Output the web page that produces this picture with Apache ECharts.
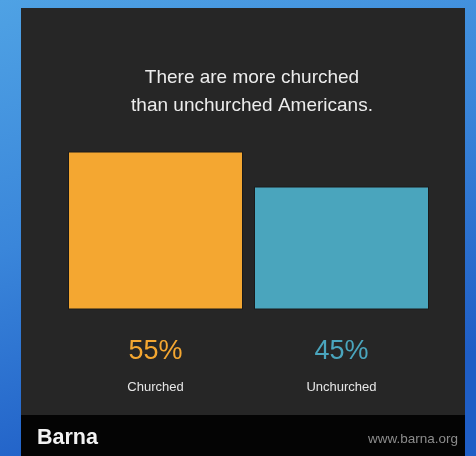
<!DOCTYPE html>
<html><head><meta charset="utf-8">
<script src="https://cdn.jsdelivr.net/npm/echarts@6/dist/echarts.min.js"></script>
<style>html,body{margin:0;padding:0;width:476px;height:456px;overflow:hidden;}#c{width:476px;height:456px;}</style>
</head><body><div id="c"></div>
<script>
const categories = ['Churched', 'Unchurched'];
const values = [55, 45];
const colors = ['#f4a731', '#4aa5bd'];
const titleText = 'There are more churched\nthan unchurched Americans.';
const brand = 'Barna';
const site = 'www.barna.org';

const chart = echarts.init(document.getElementById('c'));
const FONT = 'Liberation Sans, Arial, sans-serif';
const rich = { n: { color: '#e6e6e6', fontSize: 13, lineHeight: 30, fontFamily: FONT } };
colors.forEach((c, i) => { rich['p' + i] = { color: c, fontSize: 27, lineHeight: 40, fontFamily: FONT }; });

chart.setOption({
  backgroundColor: {
    type: 'linear', x: 0, y: 0, x2: 0.3, y2: 1,
    colorStops: [{ offset: 0, color: '#4fa2e4' }, { offset: 0.5, color: '#3a86da' }, { offset: 1, color: '#1f5ec6' }]
  },
  graphic: [
    { type: 'rect', z: -10, shape: { x: 21, y: 8, width: 444, height: 407 }, style: { fill: '#262626' } },
    { type: 'rect', z: -10, shape: { x: 21, y: 415, width: 444, height: 41 }, style: { fill: '#040404' } },
    { type: 'text', x: 252, y: 64, style: { text: titleText, fill: '#ececec', fontSize: 19, lineHeight: 28, fontFamily: FONT, align: 'center', verticalAlign: 'top' } },
    { type: 'text', left: 37, top: 427, style: { text: brand, fill: '#f2f2f2', fontSize: 21.5, fontFamily: FONT, fontWeight: 'bold' } },
    { type: 'text', right: 18, top: 432, style: { text: site, fill: '#8c8c8c', fontSize: 13.5, fontFamily: FONT } }
  ],
  grid: { left: 62.5, right: 41.5, top: 134, bottom: 147 },
  xAxis: {
    type: 'category', data: categories,
    axisLine: { show: false }, axisTick: { show: false },
    axisLabel: {
      margin: 23,
      formatter: (v, i) => '{p' + i + '|' + values[i] + '%}\n{n|' + v + '}',
      rich: rich
    }
  },
  yAxis: { type: 'value', min: 10, max: 60, show: false, splitLine: { show: false } },
  series: [{
    type: 'bar', barWidth: 175,
    data: values.map((v, i) => ({ value: v, itemStyle: { color: colors[i] } })),
    itemStyle: { borderColor: '#1a1a1a', borderWidth: 1 }
  }]
});
</script></body></html>
